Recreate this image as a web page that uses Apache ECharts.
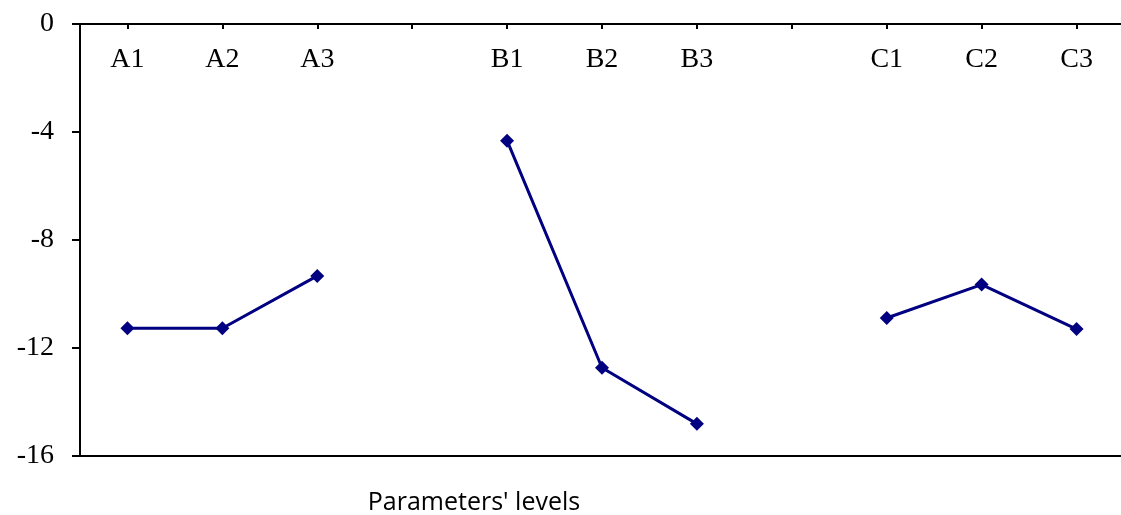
<!DOCTYPE html>
<html>
<head>
<meta charset="utf-8">
<script src="https://cdn.jsdelivr.net/npm/echarts@6/dist/echarts.min.js"></script>
<style>
  html, body { margin: 0; padding: 0; background: #fff; }
  #chart { width: 1121px; height: 515px; }
</style>
</head>
<body>
<div id="chart"></div>
<script>
// Factor levels along the top axis; empty slots separate the three groups
const categories = ['A1', 'A2', 'A3', '', 'B1', 'B2', 'B3', '', 'C1', 'C2', 'C3'];

// Mean response for each level of parameters A, B and C
const levelsA = [-11.27, -11.27, -9.33];
const levelsB = [-4.32, -12.73, -14.81];
const levelsC = [-10.89, -9.65, -11.30];

// Value axis settings
const yMin = -16;
const yMax = 0;
const yStep = 4;

const axisTitle = "Parameters' levels";

// One series with gaps ('-') so each parameter is drawn as its own polyline
const seriesData = [].concat(levelsA, ['-'], levelsB, ['-'], levelsC);

const chart = echarts.init(document.getElementById('chart'), null, { renderer: 'canvas' });

const serif = '"Liberation Serif", "Times New Roman", serif';

chart.setOption({
  animation: false,
  backgroundColor: '#ffffff',
  title: {
    text: axisTitle,
    left: 469,
    top: 485,
    textAlign: 'center',
    textStyle: {
      fontFamily: '"Open Sans", "Liberation Sans", sans-serif',
      fontWeight: 'normal',
      fontSize: 25,
      color: '#000'
    }
  },
  grid: {
    left: 80,
    top: 24,
    width: 1044,
    bottom: 59,
    show: false,
    containLabel: false,
    outerBoundsMode: 'none'
  },
  xAxis: [{
    type: 'category',
    position: 'top',
    data: categories,
    boundaryGap: true,
    axisLine: { show: true, onZero: false, lineStyle: { color: '#000', width: 2 } },
    axisTick: { show: true, inside: true, alignWithLabel: true, length: 5, lineStyle: { color: '#000', width: 2 } },
    axisLabel: {
      show: true,
      inside: true,
      margin: 22,
      interval: 0,
      fontFamily: serif,
      fontSize: 28,
      color: '#000'
    },
    splitLine: { show: false }
  }, {
    // plain baseline along the bottom of the plot
    type: 'category',
    position: 'bottom',
    data: categories,
    axisLine: { show: true, onZero: false, lineStyle: { color: '#000', width: 2 } },
    axisTick: { show: false },
    axisLabel: { show: false },
    splitLine: { show: false }
  }],
  yAxis: {
    type: 'value',
    min: yMin,
    max: yMax,
    interval: yStep,
    axisLine: { show: true, onZero: false, lineStyle: { color: '#000', width: 2 } },
    axisTick: { show: true, inside: false, length: 8, lineStyle: { color: '#000', width: 2 } },
    axisLabel: {
      margin: 26,
      fontFamily: serif,
      fontSize: 28,
      color: '#000'
    },
    splitLine: { show: false }
  },
  series: [{
    type: 'line',
    xAxisIndex: 0,
    data: seriesData,
    connectNulls: false,
    symbol: 'diamond',
    symbolSize: 14,
    showAllSymbol: true,
    lineStyle: { color: '#000080', width: 3 },
    itemStyle: { color: '#000080' },
    emphasis: { disabled: true }
  }]
});
</script>
</body>
</html>
